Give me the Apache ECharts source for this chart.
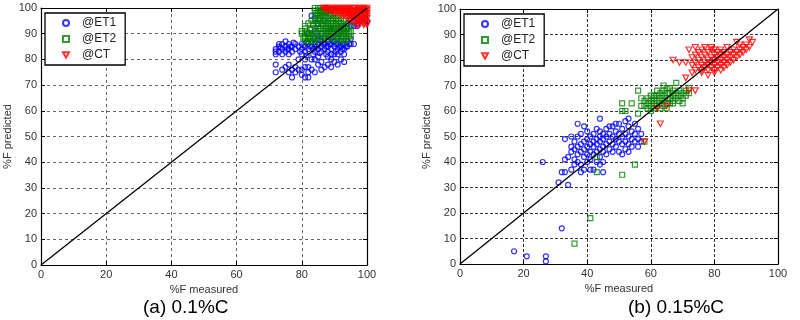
<!DOCTYPE html>
<html>
<head>
<meta charset="utf-8">
<script src="https://cdn.jsdelivr.net/npm/echarts@6/dist/echarts.min.js"></script>
<style>
  html, body { margin: 0; padding: 0; background: #fff; }
  #chart { width: 800px; height: 320px; }
</style>
</head>
<body>
<div id="chart"></div>
<script>
// tick labels, shared by both panels
let xTicks = [0, 20, 40, 60, 80, 100];
let yTicks = [0, 10, 20, 30, 40, 50, 60, 70, 80, 90, 100];
let seriesNames = ['@ET1', '@ET2', '@CT'];
let captions = ['(a) 0.1%C', '(b) 0.15%C'];
let diag = [[0, 0], [100, 100]]; // y = x reference line

// (a) 0.1%C  [measured, predicted]
let aET1 = [
    [72,84],[72,83],[73,85],[73,86],[72,82],[74,86],[74,84],[75,85],[75,87],[76,86],[76,84],[77,85],[77,83],
    [78,86],[78,84],[73,83],[75,83],[76,82],[74,82],
    [72,78],[72,75],[74,76],[75,77],[76,75],[76,78],[77,73],[77,76],[78,75],[78,77],[79,76],[79,80],[80,76],
    [80,74],[81,73],[81,77],[82,73],[82,75],[82,77],[83,76],[84,75],[85,78],[86,79],[86,76],[87,77],[88,78],
    [89,77],[89,80],[90,79],[91,78],[92,80],[93,79],[90,82],[88,81],[85,81],[84,80],[83,80],[81,80],
    [80,82],[80,84],[81,85],[81,83],[82,86],[82,84],[83,85],[83,87],[84,83],[84,86],[84,88],[85,84],[85,86],
    [85,89],[86,83],[86,85],[86,87],[87,84],[87,86],[87,88],[88,83],[88,85],[88,87],[89,84],[89,86],[89,88],
    [90,85],[90,87],[91,84],[91,86],[91,88],[92,83],[92,85],[92,87],[93,84],[93,86],[94,85],[94,87],[95,86],
    [96,86],[95,88],[93,82],[91,82],[89,82],
    [86,90],[88,91],[90,92],[92,93],[94,94],[96,95],[97,94],[98,95],[100,95],[97,93],[95,93],[93,91],[91,90],
    [89,92],[94,92],[96,93],[84,91],[82,90],[87,95],[85,94],[84,96],[83,97],
    [80.5,85.5],[81.5,86.5],[82.5,85],[83.5,84],[84.5,85],[85.5,87.5],[86.5,86],[87.5,85],[88.5,86],[89.5,87],
    [90.5,86],[91.5,85],[92.5,86],[93.5,85],[81.5,81.5],[83.5,82],[85.5,82.5],[87.5,82],[90.5,83],[92.5,84],
    [94.5,86],[79.5,83],[79,85],[80,86],[73.5,84.5],[75.5,84],[76.5,85],[77.5,86.5]
];
let aET2 = [
    [85,100],[86,100],[87,100],[86,99],[85,98],[84,97],[84,95],[83,95],[82,94],[81,93],[81,92],[80,91],[80,90],
    [81,89],[81,88],[82,87],[83,87],[82,90],[83,92],[83,90],[84,92],[84,89],[85,91],[85,93],[85,88],[86,90],
    [86,92],[86,94],[86,96],[87,89],[87,91],[87,93],[87,95],[87,97],[88,90],[88,92],[88,94],[88,96],[88,98],
    [89,89],[89,91],[89,93],[89,95],[89,97],[90,88],[90,90],[90,92],[90,94],[90,96],[91,89],[91,91],[91,93],
    [91,95],[92,88],[92,90],[92,92],[92,94],[93,89],[93,91],[93,93],[94,88],[94,90],[94,92],[95,89],[95,91],
    [84,99],[85,96],[86,97],[87,99],[88,99],[89,99],[90,98],[91,97],[92,96],[93,95],[94,94],[82,88],[83,89],
    [84,87],[86,88],[88,88],[91,87],[93,87],
    [80.5,88.5],[81.5,90.5],[82.5,91.5],[83.5,93.5],[84.5,94],[85.5,95],[85.5,97],[86.5,98],[87.5,98.5],
    [88.5,97],[89.5,96],[90.5,95],[91.5,94],[92.5,93],[93.5,92],[94.5,91],[95,93],[94.5,89],[93.5,88],
    [92.5,89],[91.5,90],[90.5,91],[89.5,92],[88.5,93],[87.5,94],[86.5,95],[85.5,92],[84.5,90],[83.5,88.5],
    [82.5,88],[81.5,87],[86.5,89],[87.5,90],[88.5,89],[89.5,90],[90.5,89],[91.5,92],[92.5,91],[93.5,90],
    [86.5,93],[87.5,92],[88.5,91],[89.5,94],[90.5,93],[84.5,98],[85.5,99],[84,100],[86,98.5]
];
let aCT = [
    [87,100],[88,100],[89,100],[90,100],[91,100],[92,100],[93,100],[94,100],[95,100],[96,100],[97,100],[98,100],
    [99,100],[100,100],[89,99],[90,99],[91,99],[92,99],[93,99],[94,99],[95,99],[96,99],[97,99],[98,99],[99,99],
    [100,99],[91,98],[92,98],[93,98],[94,98],[95,98],[96,98],[97,98],[98,98],[99,98],[100,98],[93,97],[94,97],
    [95,97],[96,97],[97,97],[98,97],[99,97],[100,97],[95,96],[96,96],[97,96],[98,96],[99,96],[100,96],[96,95],
    [97,95],[98,95],[99,95],[98,94],[99,94],[97,93],[100,94],
    [87.5,99.5],[88.5,99.5],[89.5,99],[90.5,99.5],[91.5,99],[92.5,98.5],[93.5,98.5],[94.5,97.5],[95.5,97.5],
    [96.5,96.5],[97.5,96],[98.5,95.5],[99.5,95],[99,93.5],[100,93.5],[86.5,100],[88,99],[90,98],[92,97],
    [94,96],[95,95],[97,94],[99.5,97.5],[98.5,98.5],[96.5,98.5],[94.5,99.5],[92.5,99.5],[97.5,99.5],[99.5,99.5]
];

// (b) 0.15%C
let bET1 = [
    [17,5],[21,3],[27,3],[27,1],[26,40],[32,14],[31,32],[32,36],[33,36],[33,41],[34,31],[33,49],[35,50],[37,55],
    [39,54],[44,57],[53,57],[57,51],[56,46],[45,36],[42,37],[41,37],
    [34,42],[35,44],[35,46],[36,41],[36,45],[36,48],[37,40],[37,43],[37,46],[37,50],[38,39],[38,44],[38,47],
    [38,51],[39,42],[39,45],[39,48],[40,40],[40,43],[40,46],[40,49],[40,52],[41,41],[41,44],[41,47],[41,50],
    [42,43],[42,46],[42,48],[42,51],[43,40],[43,44],[43,47],[43,49],[43,53],[44,42],[44,45],[44,48],[44,50],
    [44,52],[45,40],[45,44],[45,46],[45,49],[45,51],[46,43],[46,47],[46,50],[46,53],[47,45],[47,48],[47,51],
    [48,44],[48,47],[48,50],[48,54],[49,46],[49,49],[49,52],[50,44],[50,48],[50,51],[50,55],[51,43],[51,47],
    [51,50],[51,53],[52,45],[52,48],[52,51],[53,44],[53,47],[53,50],[53,54],[54,46],[54,49],[54,52],[55,48],
    [55,51],[56,49],[56,53],[57,48],[55,55],[52,56],[49,55],[47,54],[39,37],[38,36],[44,39],[35,37],[36,39]
];
let bET2 = [
    [36,8],[41,18],[43,36],[43,42],[51,35],[55,39],[51,63],[51,60],[52,60],[54,63],[56,59],[56,68],[57,65],
    [58,48],[57,62],[58,64],[58,62],[59,61],[59,63],[59,65],[60,60],[60,62],[60,64],[61,61],[61,63],[61,65],
    [61,66],[62,62],[62,64],[62,66],[63,61],[63,63],[63,65],[63,67],[64,62],[64,64],[64,66],[64,68],[64,70],
    [65,61],[65,63],[65,65],[65,67],[66,63],[66,65],[66,67],[66,69],[67,64],[67,66],[67,68],[68,65],[68,67],
    [68,71],[69,64],[69,66],[69,68],[70,65],[70,67],[71,66],[71,68],[72,67],[72,69],[62,68],[60,66],[65,69],
    [67,63],[70,63]
];
let bCT = [
    [63,55],[62,61],[65,62],[67,80],[69,79],[71,73],[72,68],[74,68],[58,48],
    [72,84],[71,79],[73,75],[73,78],[73,81],[74,76],[74,79],[74,82],[74,85],[75,77],[75,80],[75,83],[76,76],
    [76,78],[76,81],[76,84],[77,77],[77,79],[77,82],[77,85],[78,76],[78,78],[78,80],[78,83],[79,77],[79,79],
    [79,81],[79,84],[79,85],[80,76],[80,78],[80,80],[80,82],[80,84],[81,77],[81,79],[81,81],[81,83],[82,78],
    [82,80],[82,82],[82,84],[83,77],[83,79],[83,81],[83,83],[84,78],[84,80],[84,82],[84,85],[85,79],[85,81],
    [85,83],[86,80],[86,82],[86,84],[87,81],[87,83],[87,87],[88,82],[88,84],[88,86],[89,83],[89,85],[90,84],
    [90,86],[91,85],[91,88],[92,87],[76,75],[78,74],[80,75],[82,76]
];

let FONT = 'Liberation Sans';
let COLORS = ['#0000ff', '#008000', '#ff0000'];
let SYMBOLS = ['circle', 'rect', 'path://M0,0L10,0L5,9Z']; // hollow circle, square, down-triangle

function panelAxes(gridIndex, gridColor, gridDash) {
    let xs = [{
        gridIndex: gridIndex, type: 'value', min: 0, max: 100, interval: 20,
        name: '%F measured', nameLocation: 'middle', nameGap: 17,
        nameTextStyle: {fontFamily: FONT, fontSize: 11, color: '#333'},
        axisLine: {show: true, onZero: false, lineStyle: {color: '#000', width: 1.2}},
        axisTick: {show: true, inside: true, length: 4, lineStyle: {color: '#000'}},
        axisLabel: {fontFamily: FONT, fontSize: 11, color: '#333', margin: 4,
            formatter: function (v) { return xTicks.indexOf(v) >= 0 ? String(v) : ''; }},
        splitLine: {show: true, lineStyle: {color: gridColor, type: gridDash, width: 1}}
    }, {
        gridIndex: gridIndex, type: 'value', min: 0, max: 100, interval: 20, position: 'top',
        axisLine: {show: true, onZero: false, lineStyle: {color: '#000', width: 1.2}},
        axisTick: {show: true, inside: true, length: 4, lineStyle: {color: '#000'}},
        axisLabel: {show: false}, splitLine: {show: false}
    }];
    let ys = [{
        gridIndex: gridIndex, type: 'value', min: 0, max: 100, interval: 10,
        name: '%F predicted', nameLocation: 'middle', nameGap: 28,
        nameTextStyle: {fontFamily: FONT, fontSize: 11, color: '#333'},
        axisLine: {show: true, onZero: false, lineStyle: {color: '#000', width: 1.2}},
        axisTick: {show: true, inside: true, length: 4, lineStyle: {color: '#000'}},
        axisLabel: {fontFamily: FONT, fontSize: 11, color: '#333', margin: 4,
            formatter: function (v) { return yTicks.indexOf(v) >= 0 ? String(v) : ''; }},
        splitLine: {show: true, lineStyle: {color: gridColor, type: gridDash, width: 1}}
    }, {
        gridIndex: gridIndex, type: 'value', min: 0, max: 100, interval: 10, position: 'right',
        axisLine: {show: true, onZero: false, lineStyle: {color: '#000', width: 1.2}},
        axisTick: {show: true, inside: true, length: 4, lineStyle: {color: '#000'}},
        axisLabel: {show: false}, splitLine: {show: false}
    }];
    return [xs, ys];
}

function scatterSeries(name, data, k, axisIdx) {
    return {
        name: name, type: 'scatter', data: data,
        xAxisIndex: axisIdx, yAxisIndex: axisIdx,
        symbol: SYMBOLS[k], symbolSize: k === 2 ? [6, 5.5] : 5,
        itemStyle: {color: 'rgba(255,255,255,0)', borderColor: COLORS[k], borderWidth: 1.2},
        emphasis: {disabled: true}, animation: false, z: 3 + k
    };
}

function diagSeries(axisIdx) {
    return {
        type: 'line', data: diag, xAxisIndex: axisIdx, yAxisIndex: axisIdx,
        showSymbol: false, lineStyle: {color: '#000', width: 1.3}, z: 10,
        silent: true, animation: false
    };
}

function legendAt(left, top) {
    return {
        orient: 'vertical', left: left, top: top,
        data: seriesNames.map(function (n, k) { return {name: n, icon: SYMBOLS[k]}; }),
        itemWidth: 6, itemHeight: 6, itemGap: 2,
        padding: [3, 9, 3, 17],
        backgroundColor: '#fff', borderColor: '#000', borderWidth: 1.3,
        selectedMode: false, z: 20,
        textStyle: {fontFamily: FONT, fontSize: 12, color: '#222', lineHeight: 14, padding: [0, 0, 0, 8]}
    };
}

// left panel grid is finer/lighter than the right one
let a = panelAxes(0, '#666', [3, 3]);
let b = panelAxes(1, '#333', [3, 2]);

let myChart = echarts.init(document.getElementById('chart'), null, {renderer: 'canvas'});
let option = {
    animation: false,
    grid: [
        {left: 41, top: 8, width: 326, height: 257},
        {left: 460, top: 9, width: 318, height: 255}
    ],
    xAxis: a[0].concat(b[0]),
    yAxis: a[1].concat(b[1]),
    legend: [legendAt(45, 13), legendAt(464, 14)],
    series: [
        scatterSeries('@ET1', aET1, 0, 0),
        scatterSeries('@ET2', aET2, 1, 0),
        scatterSeries('@CT', aCT, 2, 0),
        diagSeries(0),
        scatterSeries('@ET1', bET1, 0, 2),
        scatterSeries('@ET2', bET2, 1, 2),
        scatterSeries('@CT', bCT, 2, 2),
        diagSeries(2)
    ],
    graphic: [
        {type: 'text', left: 143, top: 298, style: {text: captions[0], font: '19px "Liberation Sans"', fill: '#000'}},
        {type: 'text', left: 628, top: 298, style: {text: captions[1], font: '19px "Liberation Sans"', fill: '#000'}}
    ]
};
myChart.setOption(option);
</script>
</body>
</html>
